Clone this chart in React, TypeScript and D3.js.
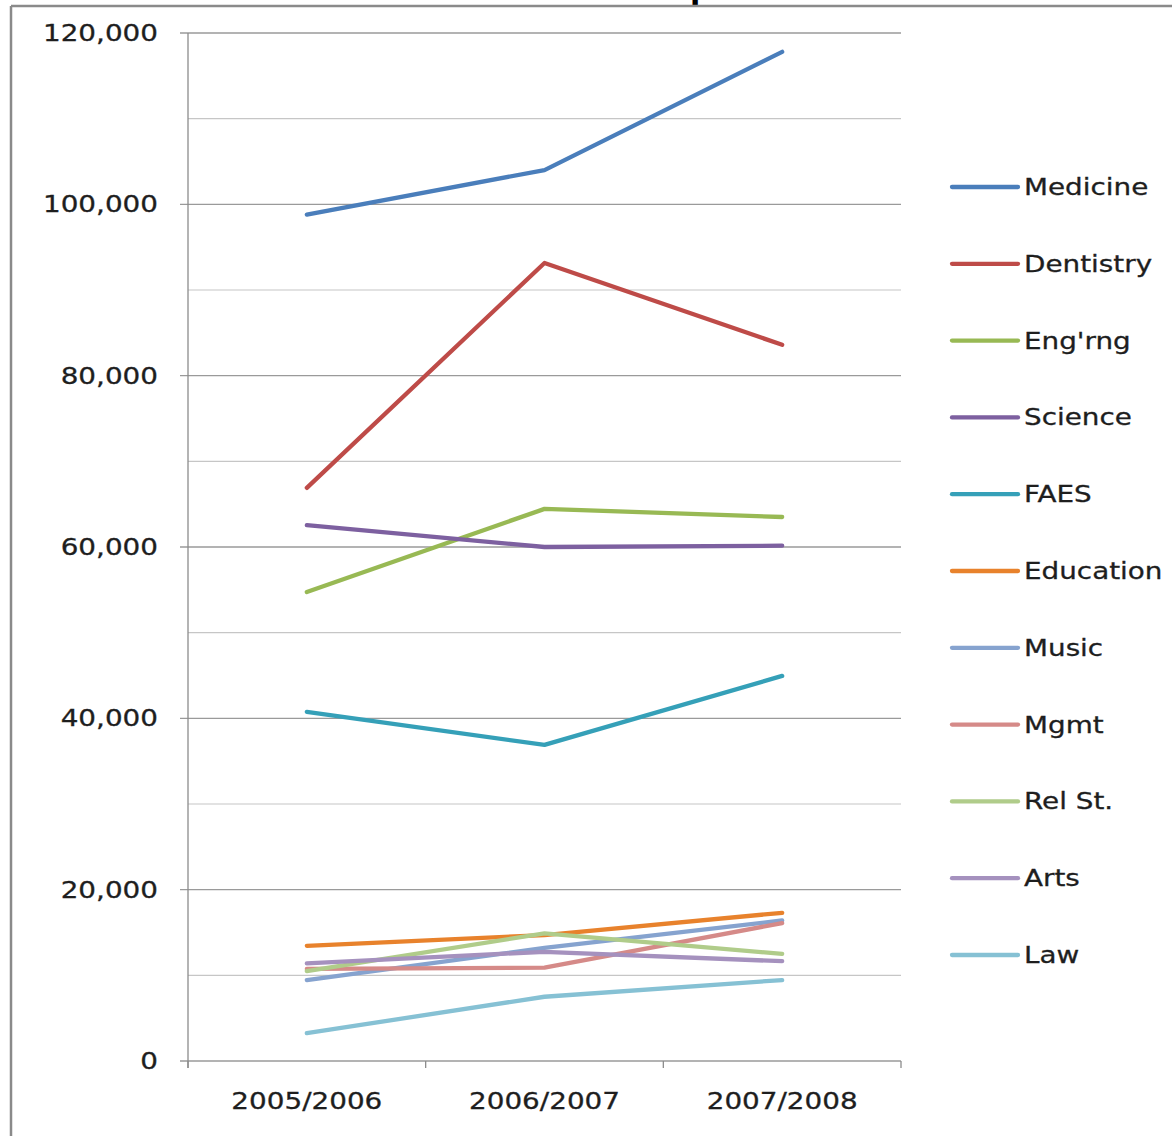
import React from "react";
import * as d3 from "d3";

const years = ["2005/2006", "2006/2007", "2007/2008"];
const seriesNames = ["Medicine", "Dentistry", "Eng'rng", "Science", "FAES", "Education", "Music", "Mgmt", "Rel St.", "Arts", "Law"];
const medicine = [98800, 104000, 117800];
const dentistry = [66900, 93150, 83600];
const engineering = [54750, 64450, 63500];
const science = [62550, 60000, 60150];
const faes = [40750, 36900, 44950];
const education = [13450, 14700, 17300];
const music = [9450, 13200, 16400];
const mgmt = [10750, 10900, 16100];
const relSt = [10500, 14900, 12500];
const arts = [11400, 12750, 11650];
const law = [3250, 7500, 9450];
const seriesColors = ["#4a7ebb", "#be4b48", "#98b954", "#7d60a0", "#35a0b8", "#e8822c", "#86a3cf", "#d58a88", "#b0cc8a", "#a591be", "#86c1d4"];
const yTicks = [0, 20000, 40000, 60000, 80000, 100000, 120000];
const yGrid = [10000, 30000, 50000, 70000, 90000, 110000];

const allValues = [medicine, dentistry, engineering, science, faes, education, music, mgmt, relSt, arts, law];

export default function App() {
  const W = 1172, H = 1136;
  const x = d3.scaleBand<string>().domain(years).range([188, 901]);
  const y = d3.scaleLinear().domain([0, 120000]).range([1061, 33]);
  const line = d3
    .line<number>()
    .x((_, i) => (x(years[i]) as number) + x.bandwidth() / 2)
    .y((v) => y(v));
  const fmt = d3.format(",");
  const font = "'DejaVu Sans', sans-serif";
  const sx = 1.21;
  const txtColor = "#1e1e1e";
  const xTickPos = [...years.map((c) => x(c) as number), 901];
  const legendY0 = 187, legendStep = 76.8;

  return (
    <svg width={W} height={H} style={{ position: "absolute", left: 0, top: 0, background: "#fff" }}>
      <rect x={0} y={0} width={W} height={H} fill="#fff" />
      {/* cut-off title: only a descender peeks below the top edge */}
      <text x={690} y={-1} fontFamily={font} fontSize={30} fontWeight="bold" fill="#000">p</text>
      {/* frame */}
      <line x1={11} y1={6} x2={W} y2={6} stroke="#8a8a8a" strokeWidth={2.5} />
      <line x1={11} y1={6} x2={11} y2={H} stroke="#8a8a8a" strokeWidth={2.5} />
      {/* gridlines */}
      {yGrid.map((t) => (
        <line key={"m" + t} x1={188} x2={901} y1={y(t)} y2={y(t)} stroke="#c6c6c6" strokeWidth={1.2} />
      ))}
      {yTicks.map((t) => (
        <line key={"g" + t} x1={180} x2={901} y1={y(t)} y2={y(t)} stroke="#9a9a9a" strokeWidth={1.3} />
      ))}
      {/* axes */}
      <line x1={188} x2={188} y1={33} y2={1068} stroke="#8c8c8c" strokeWidth={1.3} />
      {xTickPos.map((p, i) => (
        <line key={"xt" + i} x1={p} x2={p} y1={1061} y2={1068} stroke="#8c8c8c" strokeWidth={1.3} />
      ))}
      {yTicks.map((t) => (
        <text
          key={"yl" + t}
          transform={`translate(158,${y(t) + 8}) scale(${sx},1)`}
          textAnchor="end"
          fontFamily={font}
          fontSize={23}
          fill={txtColor}
          stroke={txtColor}
          strokeWidth={0.3}
        >
          {fmt(t)}
        </text>
      ))}
      {years.map((c) => (
        <text
          key={c}
          transform={`translate(${(x(c) as number) + x.bandwidth() / 2},1109) scale(${sx},1)`}
          textAnchor="middle"
          fontFamily={font}
          fontSize={23}
          fill={txtColor}
          stroke={txtColor}
          strokeWidth={0.3}
        >
          {c}
        </text>
      ))}
      {/* series */}
      {allValues.map((vals, i) => (
        <path
          key={seriesNames[i]}
          d={line(vals) as string}
          fill="none"
          stroke={seriesColors[i]}
          strokeWidth={4.3}
          strokeLinecap="round"
          strokeLinejoin="round"
        />
      ))}
      {/* legend */}
      {seriesNames.map((n, i) => {
        const ly = legendY0 + i * legendStep;
        return (
          <g key={"lg" + n}>
            <line x1={952} x2={1018} y1={ly} y2={ly} stroke={seriesColors[i]} strokeWidth={4.3} strokeLinecap="round" />
            <text
              transform={`translate(1024,${ly + 8}) scale(${sx},1)`}
              fontFamily={font}
              fontSize={23}
              fill={txtColor}
              stroke={txtColor}
              strokeWidth={0.3}
            >
              {n}
            </text>
          </g>
        );
      })}
    </svg>
  );
}
